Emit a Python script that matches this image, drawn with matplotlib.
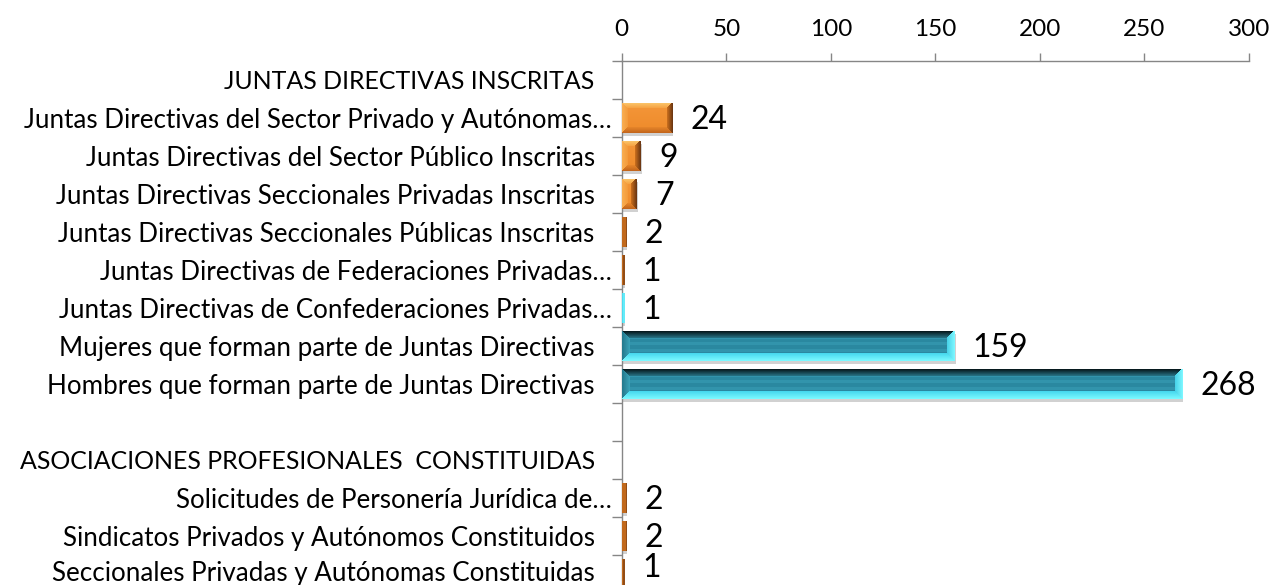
import numpy as np
import matplotlib
matplotlib.use("Agg")
import matplotlib.pyplot as plt
import matplotlib.patheffects as pe
from matplotlib.transforms import ScaledTranslation

# ---------------- data ----------------
categories = [
    "JUNTAS DIRECTIVAS INSCRITAS",
    "Juntas Directivas del Sector Privado y Autónomas…",
    "Juntas Directivas del Sector Público Inscritas",
    "Juntas Directivas Seccionales Privadas Inscritas",
    "Juntas Directivas Seccionales Públicas Inscritas",
    "Juntas Directivas de Federaciones Privadas…",
    "Juntas Directivas de Confederaciones Privadas…",
    "Mujeres que forman parte de Juntas Directivas",
    "Hombres que forman parte de Juntas Directivas",
    "",
    "ASOCIACIONES PROFESIONALES  CONSTITUIDAS",
    "Solicitudes de Personería Jurídica de…",
    "Sindicatos Privados y Autónomos Constituidos",
    "Seccionales Privadas y Autónomas Constituidas",
]
values = [None, 24, 9, 7, 2, 1, 1, 159, 268, None, None, 2, 2, 1]
x_ticks = [0, 50, 100, 150, 200, 250, 300]

# ---------------- styles ----------------
bar_palette = [None, "orange", "orange", "orange", "orange", "orange", "teal",
               "teal", "teal", None, None, "orange", "orange", "orange"]
FONT = ["Lato", "DejaVu Sans"]
plt.rcParams["font.family"] = FONT
AXIS_GRAY = "#868686"
BAR_H = 0.79
CAT_SIZE = 18.7
HEADER_SIZE = 17.9

W, H = 1272, 585
fig = plt.figure(figsize=(W / 100, H / 100), dpi=100)
fig.patch.set_facecolor("white")
left_px, right_px, top_px, bottom_px = 621.8, 1249.0, 60.8, 592.8
ax = fig.add_axes([left_px / W, 1 - bottom_px / H,
                   (right_px - left_px) / W, (bottom_px - top_px) / H])

n = len(categories)
ypos = np.arange(n)
ax.set_xlim(x_ticks[0], x_ticks[-1])
ax.set_ylim(n - 0.5, -0.5)

ppx = (right_px - left_px) / (x_ticks[-1] - x_ticks[0])   # px per unit
ppy = (bottom_px - top_px) / n                            # px per row


def hexrgb(h):
    h = h.lstrip("#")
    return np.array([int(h[i:i + 2], 16) for i in (0, 2, 4)], float) / 255.0


def lerp(c0, c1, t):
    return hexrgb(c0) * (1 - t) + hexrgb(c1) * t


def bevel_image(w, h, kind):
    img = np.zeros((h, w, 3))
    if kind == "teal":
        B = 8
        top = ("#020c0f", "#2a7c90")
        bot = ("#7af8ff", "#40d4ec")
        rgt = ("#7cf6ff", "#42cfe6")
        lft = ("#257a8e", "#3ca6bc")
        face = ("#2a88a0", "#3294ac")
    else:
        B = 6
        top = ("#fcc86e", "#f59e3e")
        bot = ("#c4661c", "#ea8a2c")
        rgt = ("#6e3812", "#d6761f")
        lft = ("#f8ad50", "#f39838")
        face = ("#f4973a", "#ee8a2a")
    tiny = w <= 4
    for r in range(h):
        for c in range(w):
            dt, db, dl, dr = r, h - 1 - r, c, w - 1 - c
            if tiny:
                cols = rgt if kind == "orange" else bot
                img[r, c] = lerp(cols[0], cols[1], 0.35 if c == w - 1 else 0.8)
                continue
            d = min(dt, db, dl, dr)
            if d >= B:
                if kind == "teal":
                    img[r, c] = hexrgb(face[1]) if (r // 3) % 2 == 0 else hexrgb(face[0])
                else:
                    img[r, c] = lerp(face[0], face[1], r / max(h - 1, 1))
                continue
            t = d / B
            if d == dr:
                img[r, c] = lerp(rgt[0], rgt[1], t)
            elif d == db:
                img[r, c] = lerp(bot[0], bot[1], t)
            elif d == dt:
                img[r, c] = lerp(top[0], top[1], t)
            else:
                img[r, c] = lerp(lft[0], lft[1], t)
    return img


LABEL_DIGIT_HALF = 11.5   # px
LABEL_MAX_BASELINE = 577  # px from top, labels stay inside the picture

for i, (v, kind) in enumerate(zip(values, bar_palette)):
    if v is None:
        continue
    bar = ax.barh(i, v, height=BAR_H, color=hexrgb("#f29130") if kind == "orange" else hexrgb("#2a88a0"),
                  edgecolor="none", zorder=2)[0]
    bar.set_path_effects([pe.SimplePatchShadow(offset=(1.0, -2.5), shadow_rgbFace="#9a9a9a", alpha=0.45),
                          pe.Normal()])
    wpx = max(1, int(round(v * ppx)))
    hpx = int(round(BAR_H * ppy))
    im = ax.imshow(bevel_image(wpx, hpx, kind), extent=(0, v, i + BAR_H / 2, i - BAR_H / 2),
                   origin="upper", aspect="auto", interpolation="nearest", zorder=3)
    im.set_clip_path(bar)
    base_px = top_px + (i + 0.5) * ppy + LABEL_DIGIT_HALF
    lift = max(0.0, base_px - LABEL_MAX_BASELINE)
    ax.annotate(str(v), xy=(v, i), xytext=(13.2, -(LABEL_DIGIT_HALF - lift) * 0.72),
                textcoords="offset points",
                ha="left", va="baseline", fontsize=23, color="black", zorder=4)

ax.set_xlim(x_ticks[0], x_ticks[-1])
ax.set_ylim(n - 0.5, -0.5)
ax.set_aspect("auto")

# axes styling
for s in ("right", "bottom"):
    ax.spines[s].set_visible(False)
for s in ("top", "left"):
    ax.spines[s].set_color(AXIS_GRAY)
    ax.spines[s].set_linewidth(1.0)

ax.xaxis.tick_top()
ax.set_xticks(x_ticks)
ax.set_xticklabels([str(t) for t in x_ticks])
ax.tick_params(axis="x", which="major", direction="out", length=6, width=1.0,
               color=AXIS_GRAY, labelsize=17.5, pad=9, labelcolor="black")

ax.set_yticks(ypos)
ax.set_yticklabels(categories)
ax.set_yticks(np.arange(-0.5, n + 0.5, 1.0), minor=True)
ax.tick_params(axis="y", which="major", length=0, labelsize=CAT_SIZE, pad=19.5, labelcolor="black")
ax.tick_params(axis="y", which="minor", direction="out", length=7.2, width=1.0, color=AXIS_GRAY)
shift = ScaledTranslation(17 / 100, 0, fig.dpi_scale_trans)
lift_last = ScaledTranslation(0, 3 / 100, fig.dpi_scale_trans)
labels = ax.get_yticklabels()
for k, lab in enumerate(labels):
    txt = lab.get_text()
    if txt.endswith("…"):
        lab.set_transform(lab.get_transform() + shift)
    if txt and txt.upper() == txt:
        lab.set_fontsize(HEADER_SIZE)
    if k == n - 1:
        lab.set_transform(lab.get_transform() + lift_last)

fig.savefig("out.png", dpi=100, facecolor="white")
